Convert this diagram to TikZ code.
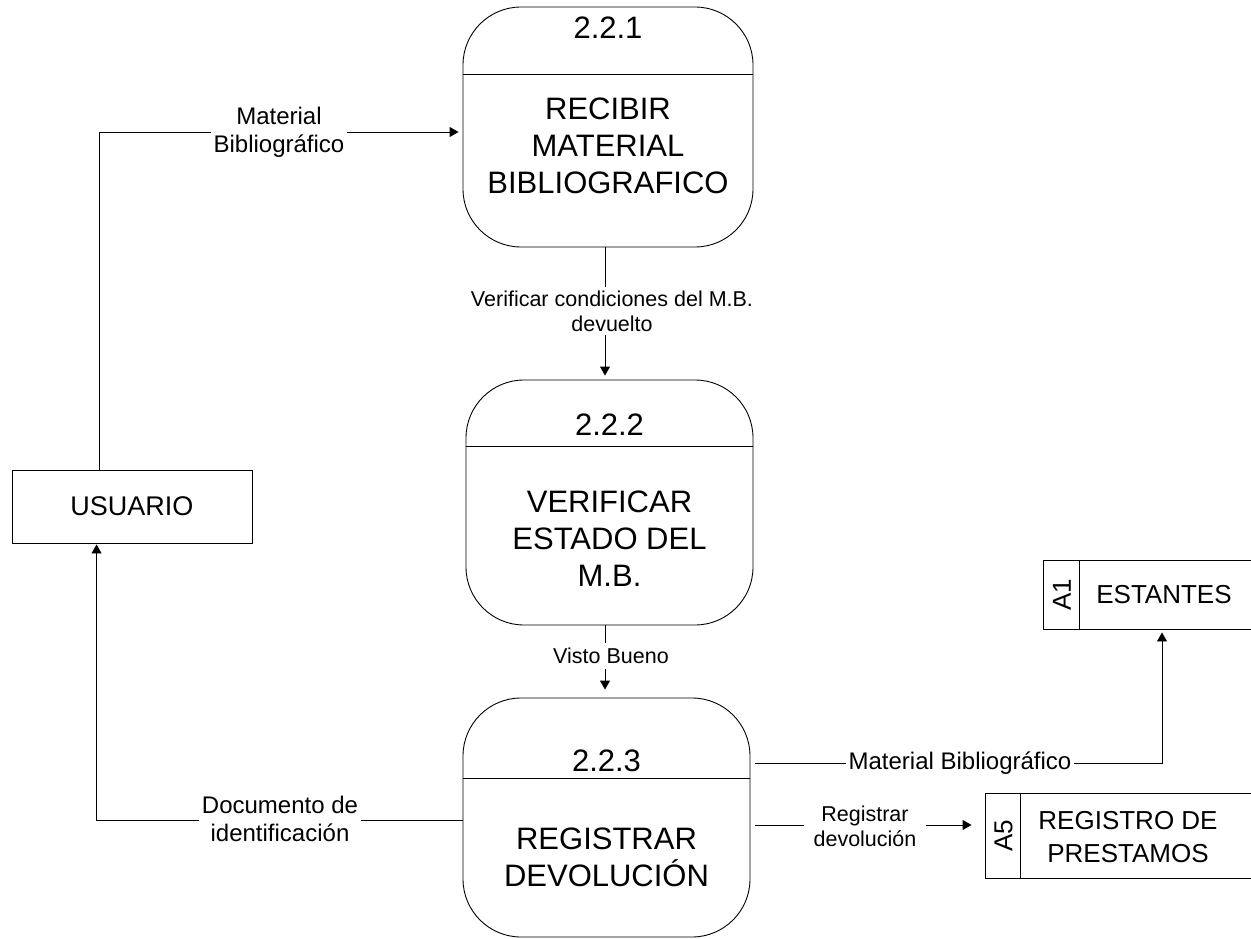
\documentclass[tikz,border=0pt]{standalone}
\usepackage{fontspec}
\setmainfont{Liberation Sans}
\usetikzlibrary{arrows.meta,calc}
\begin{document}
\begin{tikzpicture}[x=1pt,y=-1pt,
  line width=0.9pt,
  proc/.style={draw,rounded corners=58pt,inner sep=0pt},
  pid/.style={font=\fontsize{31}{37}\selectfont,inner sep=0pt,anchor=base},
  ptext/.style={font=\fontsize{31}{37}\selectfont,align=center,inner sep=0pt,anchor=north},
  ent/.style={draw,inner sep=0pt,minimum width=240pt,minimum height=73pt,
    font=\fontsize{27}{32}\selectfont},
  storebox/.style={inner sep=0pt},
  stext/.style={font=\fontsize{26}{33}\selectfont,align=center,inner sep=0pt},
  flow/.style={-{Triangle[width=10pt,length=9pt]}},
  lbl/.style={font=\fontsize{21.5}{25}\selectfont,align=center,fill=white,inner sep=3pt},
  lblb/.style={font=\fontsize{24}{28}\selectfont,align=center,fill=white,inner sep=3pt},
]
\useasboundingbox (0,0) rectangle (1251,939);

% processes
\node[proc,minimum width=290pt,minimum height=240pt] (p1) at (608,127) {};
\node[proc,minimum width=287pt,minimum height=245pt] (p2) at (609.5,502.5) {};
\node[proc,minimum width=287pt,minimum height=239pt] (p3) at (606.5,817.5) {};
\draw (p1.west |- 0,74) -- (p1.east |- 0,74);
\draw (p2.west |- 0,446) -- (p2.east |- 0,446);
\draw (p3.west |- 0,778) -- (p3.east |- 0,778);

\node[pid] (p1id) at (608,39) {2.2.1};
\node[pid] (p2id) at (609.5,435) {2.2.2};
\node[pid] (p3id) at (606.5,771) {2.2.3};
\node[ptext] (p1t) at (608,97) {RECIBIR\\MATERIAL\\BIBLIOGRAFICO};
\node[ptext] (p2t) at (609.5,490) {VERIFICAR\\ESTADO DEL\\M.B.};
\node[ptext] (p3t) at (606.5,827) {REGISTRAR\\DEVOLUCIÓN};

% external entity
\node[ent] (u) at (132,506.5) {USUARIO};

% data stores
\node[storebox,minimum width=207pt,minimum height=68pt] (s1) at (1147.5,595) {};
\draw (s1.north east) -- (s1.north west) -- (s1.south west) -- (s1.south east);
\draw ($(s1.north west)+(36,0)$) -- ($(s1.south west)+(36,0)$);
\node[stext,rotate=90] (s1id) at (1062,595) {A1};
\node[stext] (s1t) at (1164,595) {ESTANTES};

\node[storebox,minimum width=265pt,minimum height=84pt] (s2) at (1118.5,836) {};
\draw (s2.north east) -- (s2.north west) -- (s2.south west) -- (s2.south east);
\draw ($(s2.north west)+(35,0)$) -- ($(s2.south west)+(35,0)$);
\node[stext,rotate=90] (s2id) at (1003.5,836) {A5};
\node[stext] (s2t) at (1128,837) {REGISTRO DE\\PRESTAMOS};

% flows
\coordinate (vx) at (605,0);
\draw[flow,shorten >=3pt] ([xshift=88pt]u.north west) |- ($(p1.west)+(-1,5)$);
\draw[flow,shorten >=4pt] (p1.south -| vx) -- (p2.north -| vx);
\draw[flow,shorten >=8pt] (p2.south -| vx) -- (p3.north -| vx);
\draw[flow,shorten >=1pt] ($(p3.west)+(0,2.5)$) -| ([xshift=85pt]u.south west);
\draw[flow,shorten >=3pt] ($(p3.east)+(5,-54.5)$) -| ($(s1.south)+(14.5,0)$);
\draw[flow,shorten >=14pt] ($(p3.east)+(5,7.5)$) -- ($(s2.west)+(0,-11)$);

% flow labels
\node[lblb] (l1) at (279,132) {Material\\Bibliográfico};
\node[lbl,inner sep=4pt] (l2) at (612,311) {Verificar condiciones del M.B.\\devuelto};
\node[lbl,inner sep=5pt] (l3) at (611,656) {Visto Bueno};
\node[lblb] (l4) at (280,819) {Documento de\\identificación};
\node[lblb,inner sep=3pt] (l5) at (960,763) {Material Bibliográfico};
\node[lbl,inner xsep=10pt] (l6) at (865,826) {Registrar\\devolución};
\end{tikzpicture}
\end{document}
